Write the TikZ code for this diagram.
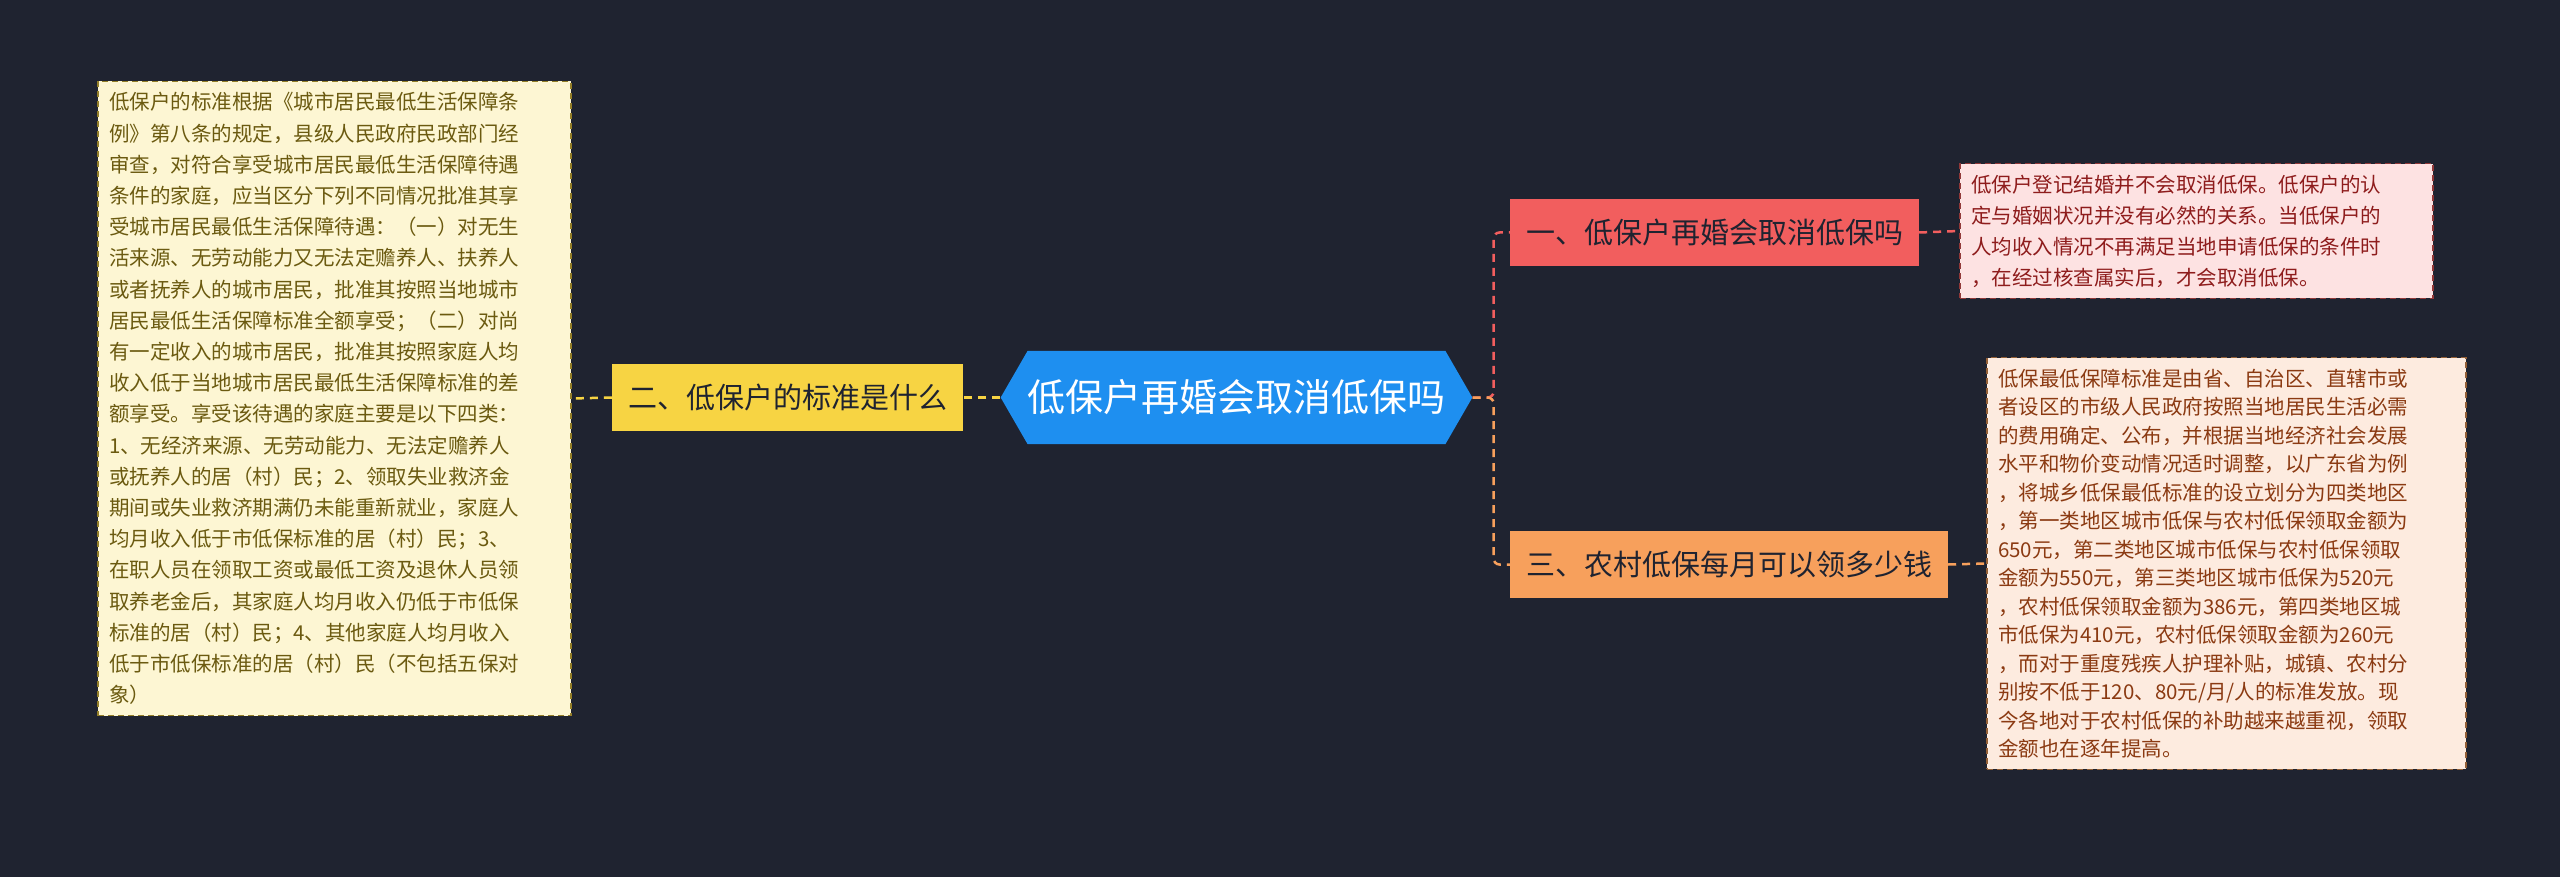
\documentclass[tikz,border=0pt]{standalone}
\usepackage{fontspec}
\setmainfont{Noto Sans CJK SC}
\usetikzlibrary{shapes.symbols}

\definecolor{bgc}{HTML}{1F2330}
\definecolor{bluec}{HTML}{1E8FF0}
\definecolor{yelc}{HTML}{F7D443}
\definecolor{redc}{HTML}{F25E5E}
\definecolor{orac}{HTML}{F7A05C}
\definecolor{leaffa}{HTML}{FDF6D3}
\definecolor{leaffb}{HTML}{FDE2E2}
\definecolor{leaffc}{HTML}{FDEBDF}
\definecolor{leaftxa}{HTML}{6B5A10}
\definecolor{leaftxb}{HTML}{8E1C1C}
\definecolor{leaftxc}{HTML}{8B3A12}

\tikzset{
  branch/.style={inner sep=0pt, minimum height=67pt, font=\fontsize{29}{34}\selectfont, text=bgc},
  leaf/.style={draw=#1!60!black, dash pattern=on 6pt off 4pt, line width=1.5pt, inner sep=11pt, align=left},
  link/.style={dash pattern=on 8pt off 6pt, line width=2.5pt, rounded corners=6pt}
}

\begin{document}
\begin{tikzpicture}[x=1pt, y=-1pt]
    \fill[bgc] (0,0) rectangle (2560,877);
    \useasboundingbox (0,0) rectangle (2560,877);

    % central topic
    \node[shape=signal, signal to=west and east, signal pointer angle=120, fill=bluec, text=white,
          minimum width=467pt, minimum height=93pt, inner sep=0pt, font=\fontsize{38}{44}\selectfont]
          (root) at (1236.5,397.5) {低保户再婚会取消低保吗};

    % branches
    \node[branch, fill=yelc, minimum width=351pt] (two) at (787.5,397.5) {二、低保户的标准是什么};
    \node[branch, fill=redc, minimum width=409pt] (one) at (1714.5,232.5) {一、低保户再婚会取消低保吗};
    \node[branch, fill=orac, minimum width=438pt] (three) at (1729,564.5) {三、农村低保每月可以领多少钱};

    % leaves
    \node[leaf=yelc, fill=leaffa, text=leaftxa, text width=451pt, font=\fontsize{20.5}{31.2}\selectfont]
      (twotxt) at (334.5,398.5) {低保户的标准根据《城市居民最低生活保障条\\例》第八条的规定，县级人民政府民政部门经\\审查，对符合享受城市居民最低生活保障待遇\\条件的家庭，应当区分下列不同情况批准其享\\受城市居民最低生活保障待遇：（一）对无生\\活来源、无劳动能力又无法定赡养人、扶养人\\或者抚养人的城市居民，批准其按照当地城市\\居民最低生活保障标准全额享受；（二）对尚\\有一定收入的城市居民，批准其按照家庭人均\\收入低于当地城市居民最低生活保障标准的差\\额享受。享受该待遇的家庭主要是以下四类：\\1、无经济来源、无劳动能力、无法定赡养人\\或抚养人的居（村）民；2、领取失业救济金\\期间或失业救济期满仍未能重新就业，家庭人\\均月收入低于市低保标准的居（村）民；3、\\在职人员在领取工资或最低工资及退休人员领\\取养老金后，其家庭人均月收入仍低于市低保\\标准的居（村）民；4、其他家庭人均月收入\\低于市低保标准的居（村）民（不包括五保对\\象）};
    \node[leaf=redc, fill=leaffb, text=leaftxb, text width=451pt, font=\fontsize{20.5}{31}\selectfont]
      (onetxt) at (2196.5,231) {低保户登记结婚并不会取消低保。低保户的认\\定与婚姻状况并没有必然的关系。当低保户的\\人均收入情况不再满足当地申请低保的条件时\\，在经过核查属实后，才会取消低保。};
    \node[leaf=orac, fill=leaffc, text=leaftxc, text width=457pt, font=\fontsize{20.5}{28.5}\selectfont]
      (threetxt) at (2226.5,563.5) {低保最低保障标准是由省、自治区、直辖市或\\者设区的市级人民政府按照当地居民生活必需\\的费用确定、公布，并根据当地经济社会发展\\水平和物价变动情况适时调整，以广东省为例\\，将城乡低保最低标准的设立划分为四类地区\\，第一类地区城市低保与农村低保领取金额为\\650元，第二类地区城市低保与农村低保领取\\金额为550元，第三类地区城市低保为520元\\，农村低保领取金额为386元，第四类地区城\\市低保为410元，农村低保领取金额为260元\\，而对于重度残疾人护理补贴，城镇、农村分\\别按不低于120、80元/月/人的标准发放。现\\今各地对于农村低保的补助越来越重视，领取\\金额也在逐年提高。};

    % connectors
    \draw[link, yelc] (root.west) -- (two.east);
    \draw[link, yelc] (two.west) -- (twotxt.east);
    \draw[link, redc] (root.east) -- ++(21,0) |- (one.west);
    \draw[link, orac] (root.east) -- ++(21,0) |- (three.west);
    \draw[link, redc] (one.east) -- (onetxt.west);
    \draw[link, orac] (three.east) -- (threetxt.west);
\end{tikzpicture}
\end{document}
